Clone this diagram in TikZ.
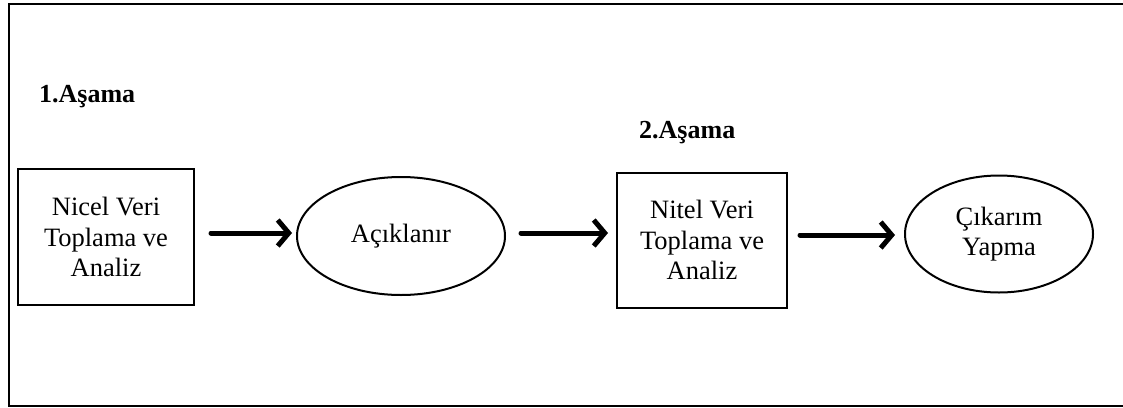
\documentclass[tikz,border=0pt]{standalone}
\usepackage{fontspec}
\setmainfont{Liberation Serif}
\usetikzlibrary{shapes.geometric,arrows.meta}
\begin{document}
\begin{tikzpicture}[x=1pt,y=-1pt,
  txt/.style={font=\fontsize{26.5}{30.5}\selectfont, align=center, inner sep=0pt},
  boxnode/.style={txt, draw, line width=2pt, rectangle},
  ellnode/.style={txt, draw, line width=2pt, ellipse, inner sep=0pt},
  phase/.style={font=\fontsize{26}{30}\selectfont\bfseries, inner sep=0pt, anchor=west},
  flow/.style={line width=5pt, -{Straight Barb[length=11pt,width=26pt]}, line cap=round}]
\useasboundingbox (0,0) rectangle (1123,407);
\fill[white] (0,0) rectangle (1123,407);
\draw[line width=2pt] (1123,4) -- (9,4) -- (9,405.5) -- (1123,405.5);

\node[phase] (p1) at (39,97) {1.Aşama};
\node[phase] (p2) at (639,133) {2.Aşama};

\node[boxnode, minimum width=176pt, minimum height=136pt] (b1) at (106,237) {Nicel Veri\\Toplama ve\\Analiz};
\node[ellnode, minimum width=208pt, minimum height=118pt] (e1) at (401,236) {Açıklanır};
\node[boxnode, minimum width=170pt, minimum height=135pt] (b2) at (702,240) {Nitel Veri\\Toplama ve\\Analiz};
\node[ellnode, minimum width=188pt, minimum height=117pt] (e2) at (999,234) {Çıkarım\\Yapma};

\draw[flow, shorten <=16pt, shorten >=4pt] ([yshift=4pt]b1.east) -- ([yshift=3pt]e1.west);
\draw[flow, shorten <=15pt, shorten >=8pt] ([yshift=3pt]e1.east) -- ([yshift=7pt]b2.west);
\draw[flow, shorten <=12pt, shorten >=9pt] ([yshift=5pt]b2.east) -- ([yshift=-1pt]e2.west);
\end{tikzpicture}
\end{document}
